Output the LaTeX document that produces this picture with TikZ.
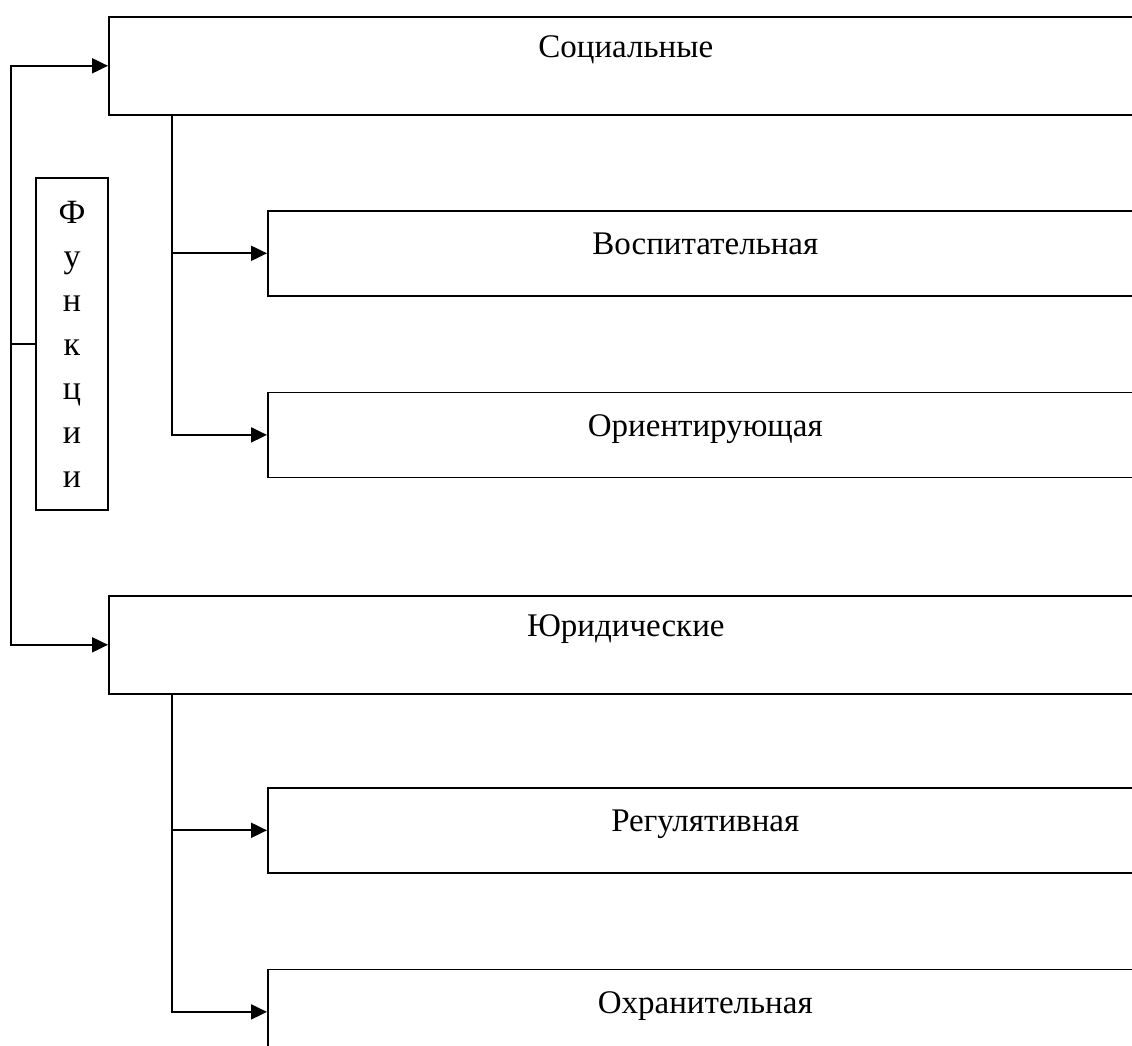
\documentclass[tikz,border=0pt]{standalone}
\usepackage{fontspec}
\setmainfont{Liberation Serif}
\usetikzlibrary{positioning, arrows.meta}

\begin{document}
\begin{tikzpicture}[
  x=0.5pt, y=-0.5pt,
  bigbox/.style={draw, line width=0.8pt, anchor=north west,
                 minimum width=517pt, inner ysep=0pt,
                 text height=20.5pt, text depth=28.5pt,
                 font=\fontsize{16.5}{20}\selectfont},
  subbox/.style={draw, line width=0.8pt, anchor=north west,
                 minimum width=437.5pt, inner ysep=0pt,
                 text height=22pt, text depth=20.5pt,
                 font=\fontsize{16.5}{20}\selectfont},
  arr/.style={-{Triangle[length=8pt, width=7.5pt]}, line width=1pt}
]
  \useasboundingbox (0,0) rectangle (1132,1046);

  \node[draw, line width=0.8pt, minimum width=36pt, minimum height=166pt,
        inner sep=0pt, align=center, font=\fontsize{17}{22}\selectfont]
        (func) at (72,344) {Ф\\у\\н\\к\\ц\\и\\и};

  \node[bigbox] (soc)    at (108,16)  {Социальные};
  \node[subbox] (vosp)   at (267,210) {Воспитательная};
  \node[subbox, below=47.5pt of vosp] (orient) {Ориентирующая};

  \node[bigbox] (jur)    at (108,595) {Юридические};
  \node[subbox] (regul)  at (267,787) {Регулятивная};
  \node[subbox, below=47.5pt of regul] (ohran) {Охранительная};

  \draw[arr] (func.west) -- ++(-24,0) |- (soc.west);
  \draw[arr] (func.west) -- ++(-24,0) |- (jur.west);

  \draw[arr] ([xshift=32pt]soc.south west) |- (vosp.west);
  \draw[arr] ([xshift=32pt]soc.south west) |- (orient.west);
  \draw[arr] ([xshift=32pt]jur.south west) |- (regul.west);
  \draw[arr] ([xshift=32pt]jur.south west) |- (ohran.west);
\end{tikzpicture}
\end{document}
